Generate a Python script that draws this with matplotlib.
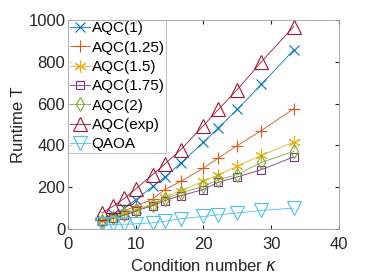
import numpy as np
import matplotlib.pyplot as plt

# condition numbers kappa = 100/k
kappa = [5, 6.67, 8.33, 10, 12.5, 14.29, 16.67, 20, 22.22, 25, 28.57, 33.33]

aqc_1 = [45, 70, 100, 140, 204, 248, 316, 415, 484, 572, 692, 856]
aqc_125 = [42, 62, 88, 109, 144, 189, 228, 292, 340, 399, 471, 575]
aqc_15 = [42, 58, 77, 93, 121, 153, 184, 228, 260, 300, 353, 415]
aqc_175 = [37, 51, 66, 86, 112, 136, 160, 189, 224, 249, 284, 345]
aqc_2 = [40, 54, 72, 89, 117, 144, 173, 204, 236, 260, 319, 371]
aqc_exp = [77, 109, 147, 192, 260, 311, 380, 495, 572, 667, 800, 968]
qaoa = [22, 22, 23, 25, 30, 37, 50, 60, 68, 77, 89, 100]

asterisk = (6, 2, 0)
series = [
    ("AQC(1)", aqc_1, "#0072BD", "x", 6.5),
    ("AQC(1.25)", aqc_125, "#D95319", "+", 9),
    ("AQC(1.5)", aqc_15, "#EDB120", asterisk, 9),
    ("AQC(1.75)", aqc_175, "#7E2F8E", "s", 6),
    ("AQC(2)", aqc_2, "#77AC30", "d", 7),
    ("AQC(exp)", aqc_exp, "#A2142F", "^", 10),
    ("QAOA", qaoa, "#4DBEEE", "v", 10),
]

plt.rcParams['font.family'] = ['Liberation Sans', 'DejaVu Sans']
plt.rcParams['mathtext.fontset'] = 'dejavusans'

fig = plt.figure(figsize=(3.74, 2.8), dpi=100)
ax = fig.add_axes([0.182, 0.182, 0.724, 0.747])

for name, vals, col, mk, ms in series:
    ax.plot(kappa, vals, color=col, marker=mk, markersize=ms, linewidth=0.6,
            markerfacecolor='none', markeredgecolor=col, markeredgewidth=0.8,
            label=name)

ax.set_xlim(0, 40)
ax.set_ylim(0, 1000)
ax.set_xticks([0, 10, 20, 30, 40])
ax.set_yticks([0, 200, 400, 600, 800, 1000])
ax.tick_params(direction='in', length=3, labelsize=12, colors='#262626',
               top=True, right=True, pad=2)
ax.tick_params(axis='x', pad=6)
for sp in ax.spines.values():
    sp.set_color('#a0a0a0')
    sp.set_linewidth(0.6)

ax.set_xlabel(r"Condition number $\kappa$", fontsize=12, color='#262626', labelpad=4)
ax.set_ylabel("Runtime T", fontsize=12, color='#262626', labelpad=2)

leg = ax.legend(loc='upper left', fontsize=11, frameon=True, fancybox=False,
                borderaxespad=0, handlelength=1.35, handletextpad=0.1,
                labelspacing=0.35, borderpad=0.1)
leg.get_frame().set_edgecolor('#a0a0a0')
leg.get_frame().set_linewidth(0.6)

fig.savefig("out.png", dpi=100)
